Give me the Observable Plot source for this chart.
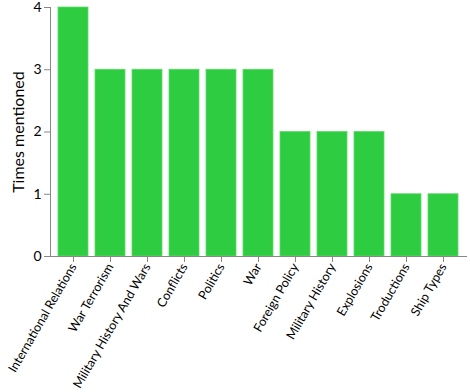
<!DOCTYPE html>
<html>
<head>
<meta charset="utf-8">
<script src="https://cdn.jsdelivr.net/npm/d3@7"></script>
<script src="https://cdn.jsdelivr.net/npm/@observablehq/plot@0.6"></script>
<style>
  html, body { margin: 0; padding: 0; background: #fff; }
  svg { font-family: Lato, sans-serif; }
</style>
</head>
<body>
<div id="chart"></div>
<script>
const categories = ["International Relations", "War Terrorism", "Military History And Wars", "Conflicts", "Politics", "War", "Foreign Policy", "Military History", "Explosions", "Troductions", "Ship Types"];
const counts = [4, 3, 3, 3, 3, 3, 2, 2, 2, 1, 1];
const yTicks = [0, 1, 2, 3, 4];

const data = categories.map((c, i) => ({category: c, count: counts[i]}));

const chart = Plot.plot({
  width: 470,
  height: 392,
  marginLeft: 50,
  marginRight: 4,
  marginTop: 7,
  marginBottom: 136,
  style: {fontFamily: "Lato, sans-serif", color: "#000", background: "#fff"},
  x: {domain: categories, padding: 0.2, label: null},
  y: {domain: [0, 4], label: null},
  marks: [
    Plot.barY(data, {x: "category", y: "count", fill: "#2ecc40", stroke: "#5fdc6b", strokeWidth: 0.8}),
    Plot.frame({anchor: "left", stroke: "#888"}),
    Plot.frame({anchor: "bottom", stroke: "#888"}),
    Plot.axisY({ticks: yTicks, tickFormat: d3.format("d"), tickSize: 6, tickPadding: 3, fontSize: 14, stroke: "#888", label: null}),
    Plot.axisX({tickRotate: -60, tickSize: 6, tickPadding: 2, fontSize: 12.5, stroke: "#888", label: null}),
    Plot.text(["Times mentioned"], {frameAnchor: "left", dx: -32, rotate: -90, fontSize: 16, textAnchor: "middle", fill: "#000"})
  ]
});
document.getElementById("chart").appendChild(chart);
</script>
</body>
</html>
